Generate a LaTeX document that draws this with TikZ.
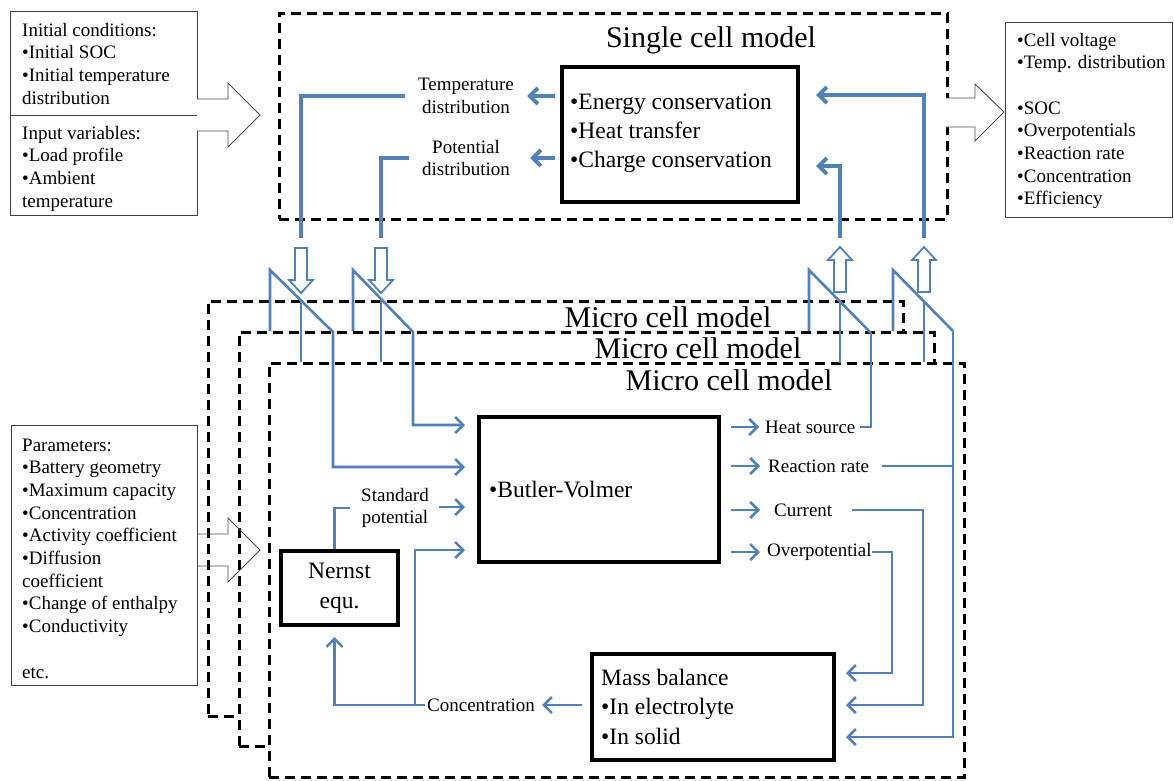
\documentclass[tikz,border=0pt]{standalone}
\usepackage{fontspec}
\setmainfont{Liberation Serif}
\usetikzlibrary{arrows.meta}
\definecolor{blu}{RGB}{79,129,189}
\begin{document}
\begin{tikzpicture}[x=1pt,y=-1pt,
  tbox/.style={draw=black!75, line width=0.9pt, inner sep=0pt, anchor=north west},
  kbox/.style={draw=black, line width=4pt, inner sep=0pt, anchor=north west},
  dbox/.style={draw=black, line width=2.8pt, dash pattern=on 10pt off 6pt, fill=white, inner sep=0pt, anchor=north west},
  lbl/.style={font=\fontsize{19}{22.5}\selectfont, inner sep=0pt, align=center},
  ltx/.style={font=\fontsize{19}{22.5}\selectfont, inner sep=0pt, anchor=base west},
  btx/.style={font=\fontsize{23.5}{29}\selectfont, inner sep=0pt, anchor=base west},
  ttl/.style={font=\fontsize{30}{34}\selectfont, inner sep=0pt, anchor=base},
  thk/.style={draw=blu, line width=4pt},
  thn/.style={draw=blu, line width=2.6pt},
  endbarb/.style={-{Straight Barb[length=8pt,width=16pt]}},
  hol/.style={draw=blu, line width=1.8pt, fill=white, line join=miter},
  big/.style={draw=black!70, line width=0.9pt, line join=miter}]
\useasboundingbox (0,0) rectangle (1174,780);
\fill[white] (0,0) rectangle (1174,780);

% ---------- left and right info boxes
\node[tbox, minimum width=187pt, minimum height=204pt] (ic) at (10,11) {};
\draw[black!75, line width=0.9pt] (ic.west |- 0,115) -- (ic.east |- 0,115);
\foreach \t [count=\i] in {Initial conditions:, •Initial SOC, •Initial temperature, distribution}
  \node[ltx] (ica\i) at (22,{36+22.7*(\i-1)}) {\t};
\foreach \t [count=\i] in {Input variables:, •Load profile, •Ambient, temperature}
  \node[ltx] (icb\i) at (22,{139+22.7*(\i-1)}) {\t};

\node[tbox, minimum width=167pt, minimum height=195pt] (out) at (1005,22) {};
\foreach \t [count=\i] in {•Cell voltage, •Temp. distribution, {}, •SOC, •Overpotentials, •Reaction rate, •Concentration, •Efficiency}
  \node[ltx] (outt\i) at (1017,{46+22.7*(\i-1)}) {\t};

\node[tbox, minimum width=186pt, minimum height=260pt] (par) at (11,425) {};
\foreach \t [count=\i] in {Parameters:, •Battery geometry, •Maximum capacity, •Concentration, •Activity coefficient, •Diffusion, coefficient, •Change of enthalpy, •Conductivity, {}, etc.}
  \node[ltx] (part\i) at (22,{451+22.7*(\i-1)}) {\t};

% ---------- single cell model
\node[dbox, minimum width=668pt, minimum height=206pt] (sc) at (278,12) {};
\node[ttl] (sct) at (711,47) {Single cell model};
\node[kbox, minimum width=236pt, minimum height=135pt] (scin) at (560,65) {};
\foreach \t [count=\i] in {•Energy conservation, •Heat transfer, •Charge conservation}
  \node[btx] (scit\i) at (570,{109+29*(\i-1)}) {\t};
\node[lbl] (td) at (466,96) {Temperature\\distribution};
\node[lbl] (pd) at (466,158) {Potential\\distribution};

\coordinate (scl) at ([xshift=-5pt]scin.west);
\coordinate (scr) at ([xshift=16pt]scin.east);
\coordinate (t1) at (301,238);
\coordinate (t2) at (381,238);
\coordinate (t3) at (840,238);
\coordinate (t4) at (924,238);

\draw[thk] ([xshift=-13pt]td.west) -| (t1);
\draw[thk] ([xshift=-13pt]pd.west) -| (t2);
\draw[thk,endbarb] (scl |- td) -- ([xshift=13pt]td.east);
\draw[thk,endbarb] (scl |- pd) -- ([xshift=20pt]pd.east);
\draw[thk,endbarb] (t4) |- (scr |- 0,95);
\draw[thk,endbarb] (t3) |- (scr |- 0,166);

% small hollow arrows
\foreach \x in {301,381}
  \draw[hol] ({\x-6},248) -- ({\x+6},248) -- ({\x+6},280) -- ({\x+12},280) -- (\x,293) -- ({\x-12},280) -- ({\x-6},280) -- cycle;
\foreach \x in {840,924}
  \draw[hol] (\x,247) -- ({\x+12},260) -- ({\x+6},260) -- ({\x+6},292) -- ({\x-6},292) -- ({\x-6},260) -- ({\x-12},260) -- cycle;

% ---------- micro cell models
\node[dbox, minimum width=695pt, minimum height=415pt] (b1) at (207,300) {};
\node[ttl] (mt1) at (668,327) {Micro cell model};
\node[dbox, minimum width=695pt, minimum height=414pt] (b2) at (238,331) {};
\node[ttl] (mt2) at (698,358) {Micro cell model};
\node[dbox, minimum width=695pt, minimum height=414pt] (b3) at (268,362) {};
\node[ttl] (mt3) at (729,390) {Micro cell model};

% big hollow arrows
\draw[big, fill=white] (197,99) -- (228,99) -- (228,83) -- (260,115) -- (228,147) -- (228,131) -- (197,131);
\draw[big] (197,534) -- (228,534) -- (228,518) -- (260,550) -- (228,582) -- (228,566) -- (197,566);
\draw[big, fill=white] (946,98) -- (975,98) -- (975,84) -- (1004,112) -- (975,141) -- (975,127) -- (946,127);

% inner blocks
\node[kbox, minimum width=240pt, minimum height=145pt] (bv) at (477,415) {};
\node[btx] (bvt) at (489,497) {•Butler-Volmer};
\node[kbox, minimum width=117pt, minimum height=74pt, font=\fontsize{23.5}{30}\selectfont, align=center] (ne) at (279,549) {Nernst\\equ.};
\node[kbox, minimum width=242pt, minimum height=106pt] (mb) at (590,652) {};
\foreach \t [count=\i] in {Mass balance, •In electrolyte, •In solid}
  \node[btx] (mbt\i) at (601,{685+29.5*(\i-1)}) {\t};

\node[lbl] (sp) at (395,508) {Standard\\potential};
\node[lbl] (conc) at (481,705) {Concentration};
\node[lbl, anchor=west] (hs) at (765,427) {Heat source};
\node[lbl, anchor=west] (rr) at (768,466) {Reaction rate};
\node[lbl, anchor=west] (cur) at (774,510) {Current};
\node[lbl, anchor=west] (op) at (767,552) {Overpotential};

\coordinate (bvin) at ([xshift=-12pt]bv.west);
\coordinate (bvout) at ([xshift=10pt]bv.east);
\coordinate (mbin) at ([xshift=10pt]mb.east);

% switches
\coordinate (s1a) at (270,270); \coordinate (s1o) at (333,332);
\coordinate (s2a) at (353,270); \coordinate (s2o) at (413,332);
\coordinate (s3a) at (809,270); \coordinate (s3o) at (871,333);
\coordinate (s4a) at (893,270); \coordinate (s4o) at (953,331);
\draw[thn] (301,300.5) -- (301,362);
\draw[thn] (381,299) -- (381,362);
\draw[thn] (840,301.5) -- (840,363);
\draw[thn] (924,301.5) -- (924,362);
\draw[thn,endbarb] (270,331) -- (s1a) -- (s1o) |- (bvin |- 0,467);
\draw[thn,endbarb] (353,331) -- (s2a) -- (s2o) |- (bvin |- 0,425);
\draw[thn] (809,331) -- (s3a) -- (s3o);
\draw[thn] (893,331) -- (s4a) -- (s4o);

% micro connectors
\draw[thn] ([xshift=-5pt]ne.north) |- ([xshift=-11pt]sp.west);
\draw[thn,endbarb] ([xshift=10pt]sp.east |- 0,507) -- (bvin |- 0,507);
\draw[thn,endbarb] ([xshift=-8pt]mb.west |- conc) -- ([xshift=7pt]conc.east);
\draw[thn,endbarb] ([xshift=-2pt]conc.west) -| ([xshift=-5pt,yshift=-10pt]ne.south);
\coordinate (cj) at (415,705);
\draw[thn,endbarb] (cj) |- (bvin |- 0,550);

\draw[thn,endbarb] (bvout |- hs) -- ([xshift=-6pt]hs.west);
\draw[thn,endbarb] (bvout |- rr) -- ([xshift=-8pt]rr.west);
\draw[thn,endbarb] (bvout |- cur) -- ([xshift=-14pt]cur.west);
\draw[thn,endbarb] (bvout |- op) -- ([xshift=-7pt]op.west);

\draw[thn] ([xshift=4pt]hs.east) -| (s3o);
\draw[thn] ([xshift=13pt]rr.east) -- (s4o |- rr);
\draw[thn,endbarb] (s4o) |- (mbin |- 0,737);
\draw[thn,endbarb] ([xshift=20pt]cur.east) -| (923,705) -- (mbin |- 0,705);
\draw[thn,endbarb] (op.east) -| (892,673) -- (mbin |- 0,673);
\end{tikzpicture}
\end{document}
